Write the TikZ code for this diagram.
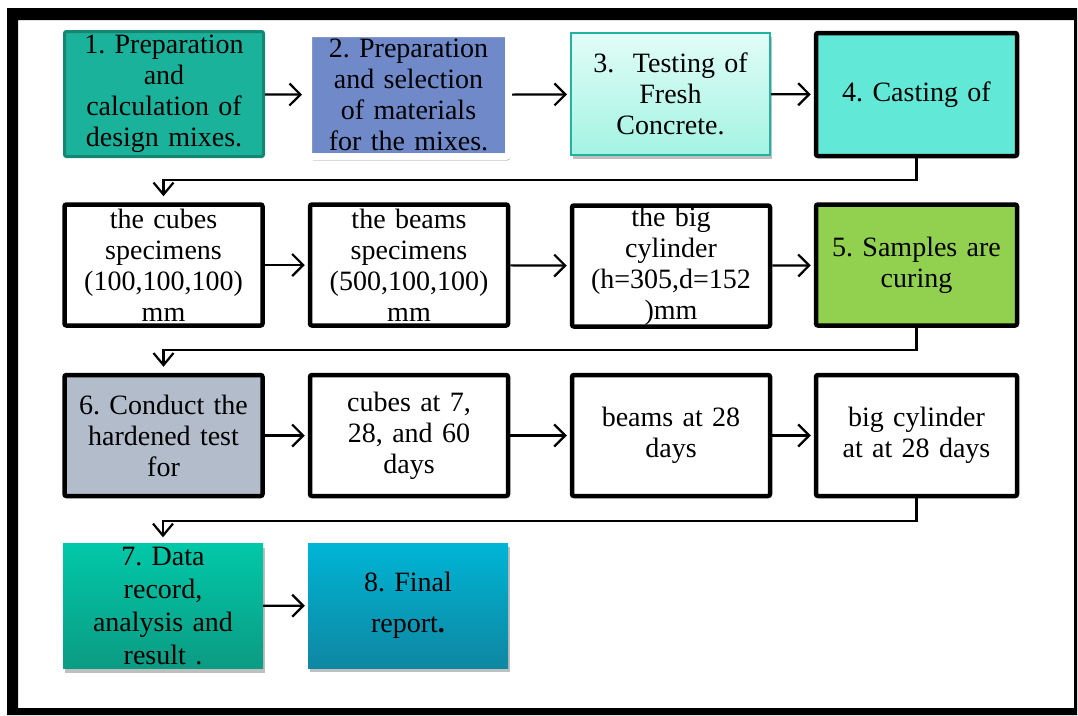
\documentclass[tikz,border=0pt]{standalone}
\usepackage{fontspec}
\setmainfont{Liberation Serif}
\frenchspacing
\usetikzlibrary{arrows.meta,shadows}
\definecolor{tealA}{HTML}{1BB29C}
\definecolor{tealAb}{HTML}{158674}
\definecolor{blueB}{HTML}{7089C8}
\definecolor{mintTop}{HTML}{E2FDF7}
\definecolor{mintBot}{HTML}{A3F3E3}
\definecolor{mintBd}{HTML}{22B3A0}
\definecolor{turq}{HTML}{62E8D6}
\definecolor{greenE}{HTML}{92D050}
\definecolor{greyF}{HTML}{B3BCCB}
\definecolor{g7top}{HTML}{00C8A8}
\definecolor{g7bot}{HTML}{0C9B83}
\definecolor{b8top}{HTML}{00B5D5}
\definecolor{b8bot}{HTML}{0E87A2}
\tikzset{
  box/.style={rectangle, inner sep=0pt, align=center, text width=#1,
    font=\fontsize{28}{31}\selectfont},
  box/.default=196pt,
  blk/.style={box, draw=black, line width=4.5pt, rounded corners=2pt,
    minimum width=198pt, minimum height=121pt},
  shad/.style={drop shadow={shadow xshift=2pt, shadow yshift=-4pt, opacity=0.25, fill=black}},
  arr/.style={line width=2.2pt, -{Straight Barb[length=11pt,width=22pt,line width=2.2pt]}, shorten >=3pt},
  conn/.style={line width=2.2pt, -{Straight Barb[length=12pt,width=20pt,line width=2.2pt]}, shorten >=6pt}
}
\begin{document}
\begin{tikzpicture}[x=1pt,y=-1pt]
\useasboundingbox (0,0) rectangle (1078,715);
\fill[white] (0,0) rectangle (1078,715);
\fill[black,even odd rule] (7,8) rectangle (1077,715) (18,20) rectangle (1074,708);

% Row 1
\node[box, fill=tealA, draw=tealAb, line width=3pt, rounded corners=2pt,
  minimum width=199pt, minimum height=125pt] (b1) at (164,94)
  {1. Preparation\\and\\calculation of\\design mixes.};
\node[box=190pt, fill=blueB, draw=white, line width=7pt, rounded corners=3pt,
  minimum width=200pt, minimum height=123pt, shad] (b2) at (408.5,95)
  {2. Preparation\\and selection\\of materials\\for the mixes.};
\node[box, top color=mintTop, bottom color=mintBot, draw=mintBd, line width=2pt,
  minimum width=199pt, minimum height=122pt, shad] (b3) at (670.5,94)
  {3.\ \ Testing of\\Fresh\\Concrete.};
\node[blk, fill=turq, minimum width=201pt, minimum height=123pt] (b4) at (916.5,94.5)
  {4. Casting of};

% Row 2
\node[blk, fill=white] (c1) at (163.5,265)
  {the cubes\\specimens\\(100,100,100)\\mm};
\node[blk, fill=white] (c2) at (409,265)
  {the beams\\specimens\\(500,100,100)\\mm};
\node[blk, fill=white] (c3) at (671,266)
  {the big\\cylinder\\(h=305,d=152\\)mm};
\node[blk, fill=greenE, minimum width=201pt] (c4) at (916.5,265)
  {5. Samples are\\curing};

% Row 3
\node[blk, fill=greyF] (d1) at (163.5,435.5)
  {6. Conduct the\\hardened test\\for};
\node[blk, fill=white] (d2) at (409,435.5)
  {cubes at 7,\\28, and 60\\days};
\node[blk, fill=white] (d3) at (671,435.5)
  {beams at 28\\days};
\node[blk, fill=white, minimum width=201pt] (d4) at (916.5,435.5)
  {big cylinder\\at at 28 days};

% Row 4
\node[box, top color=g7top, bottom color=g7bot, font=\fontsize{28}{33}\selectfont,
  minimum width=200pt, minimum height=125pt, shad] (e1) at (163,606)
  {7. Data\\record,\\analysis and\\result .};
\node[box, top color=b8top, bottom color=b8bot, font=\fontsize{28}{41}\selectfont,
  minimum width=200pt, minimum height=125pt, shad] (e2) at (408,605.5)
  {8. Final\\report\textbf{.}};

% horizontal arrows
\draw[arr] (b1) -- (b2);
\draw[arr] (b2) -- (b3);
\draw[arr] (b3) -- (b4);
\draw[arr] (c1) -- (c2);
\draw[arr] (c2) -- (c3);
\draw[arr] (c3) -- (c4);
\draw[arr] (d1) -- (d2);
\draw[arr] (d2) -- (d3);
\draw[arr] (d3) -- (d4);
\draw[arr] (e1) -- (e2);

% row connectors
\draw[conn] (b4.south) -- ++(0,22) -| (c1.north);
\draw[conn] (c4.south) -- ++(0,22) -| (d1.north);
\draw[conn] (d4.south) -- ++(0,23) -| (e1.north);
\end{tikzpicture}
\end{document}
